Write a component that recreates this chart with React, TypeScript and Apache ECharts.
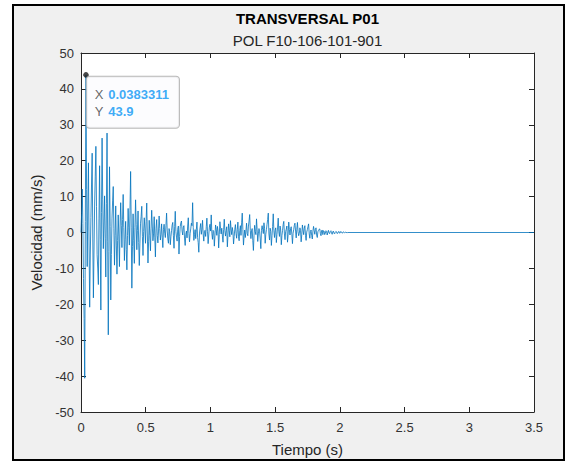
import React, { useEffect, useRef } from "react";
import * as echarts from "echarts";

// Transverse velocity record, uniformly sampled; one value per sample (mm/s)
const SAMPLE_DT = 0.0383311 / 8;
const VELOCITY: number[] = [
  0, 5.2, 12.1, 2.5, -12.8, -24.0, -40.6, 3.1, 43.9, 12.0,
  -9.5, 6.8, 19.4, -3.2, -20.8, -6.0, 4.2, 13.5, 22.1, -1.8,
  -18.2, -4.6, 8.5, 15.7, 24.0, 7.2, -6.2, -9.9, -14.5, 3.8,
  18.6, -2.0, -21.6, 5.5, 26.3, 9.1, -4.5, 2.9, 10.2, -1.6,
  -12.4, 8.0, 27.7, -2.4, -28.5, -5.3, 18.3, 1.7, -18.8, -6.1,
  4.0, 8.8, 12.8, 1.2, -9.1, -0.8, 7.4, -3.5, -11.6, -2.2,
  4.9, -1.0, -9.5, 1.8, 8.3, 2.0, -4.2, 3.6, 10.6, 1.4,
  -7.8, -1.9, 3.1, -4.7, -10.4, -0.9, 6.7, 1.3, -3.5, 6.2,
  17.0, 1.5, -15.5, -3.9, 5.2, -2.3, -8.6, 1.4, 9.1, 2.2,
  -4.8, 0.6, 6.0, -2.8, -9.2, -3.0, 2.6, 4.5, 7.3, -1.1,
  -6.4, 0.3, 4.1, 1.0, -3.0, 3.1, 8.2, -0.7, -8.5, -2.6,
  3.4, -0.9, -5.1, 1.2, 6.2, 1.8, -2.3, -0.4, 4.4, -1.5,
  -6.8, 1.2, 3.6, -0.8, -2.9, 0.4, 4.6, 1.1, -2.1, -0.6,
  2.4, -1.3, -4.2, 0.9, 2.3, -0.2, -1.4, 2.0, 5.4, 0.7,
  -1.8, -3.0, 1.1, 0.2, -3.4, -1.2, 0.5, 2.1, 2.8, -0.9,
  -4.4, 1.6, 5.9, 0.3, -1.3, -2.4, 0.9, 1.8, -6.0, -1.1,
  1.6, 2.7, 3.2, 0.4, -0.7, 1.5, 1.9, -1.8, -3.6, -0.5,
  0.4, -1.5, 1.8, 4.1, -0.3, -2.6, -0.2, 1.0, 2.6, 1.9,
  8.3, 1.4, -2.2, -0.6, 0.8, -1.7, 0.9, 2.9, -1.4, -2.8,
  -5.5, -0.4, 1.3, 2.5, -0.5, 0.8, 3.4, -0.4, -2.4, 0.3,
  0.6, -1.1, 1.6, 4.0, 0.2, -3.1, -0.7, 1.5, 2.3, 0.4,
  4.9, -0.2, -1.9, 0.6, 0.3, -3.8, -0.9, 2.1, 0.9, -0.8,
  1.7, 0.4, -4.3, -0.6, 3.0, 1.1, -0.4, 1.2, -1.0, -2.7,
  0.8, 3.7, 0.5, -1.0, 0.5, 1.6, -4.0, -0.7, 2.4, 0.6,
  -1.2, 3.3, 1.0, -0.6, 1.4, 0.2, -3.2, -1.1, 0.9, 2.2,
  -0.3, -1.6, 0.8, 2.9, -1.2, -2.3, 0.6, 1.9, -0.8, 2.7,
  5.4, 0.9, -3.5, -1.0, 0.7, -1.4, 0.5, 2.6, -0.3, -0.9,
  1.8, 3.2, 5.0, 0.6, -1.7, 0.4, 1.1, -2.2, -5.0, -0.8,
  2.0, 0.3, -0.6, 3.8, 0.9, -2.5, -0.4, 1.1, 0.2, -1.8,
  -4.5, 0.6, 1.9, 0.8, -0.3, 2.7, 1.2, -3.0, -0.5, 0.8,
  2.3, 3.6, 5.4, -0.4, -2.1, 1.2, 0.3, -3.6, -0.9, 1.7,
  5.2, 0.5, -1.4, 0.6, 1.3, -2.8, -0.6, 1.5, 4.0, 0.2,
  -1.1, 1.8, 0.7, -3.4, -0.8, 0.5, 2.2, 3.1, -0.4, -2.0,
  0.3, 0.9, 1.8, -2.7, -0.6, 2.9, 0.8, -0.7, 1.1, 1.6,
  -0.5, -3.1, -0.2, 0.8, 2.0, 2.6, 0.4, -1.5, 0.9, 2.8,
  0.2, -0.9, -0.3, 1.3, 0.6, -2.6, -0.5, 2.1, 0.7, -0.6,
  1.2, 1.9, -0.8, -2.2, 0.1, 0.8, 1.6, 2.4, -0.4, -1.6,
  0.3, 0.7, -0.9, -1.8, 0.4, 1.7, 0.6, -0.5, 0.9, 1.3,
  -0.7, -1.4, 0.2, 0.6, 0.9, 1.0, -0.3, -0.9, 0.5, 0.7,
  -0.6, 0.5, 0.4, -0.6, -0.2, 0.5, 0.3, -0.7, 0.1, 0.6,
  -0.2, -0.3, 0.3, 0.5, -0.1, -0.5, 0.2, 0.4, -0.2, -0.4,
  0.1, 0.3, 0.2, -0.3, -0.2, 0.2, 0.3, -0.2, -0.1, 0.3,
  0.1, -0.2, -0.1, 0.2, 0.1, -0.1, -0.1, 0.1, 0.1, -0.1,
  0.0,
];
// Record continues at rest to the end of the window
const RECORD_END: [number, number] = [3.5, 0];

// Data tip on the maximum
const PEAK: [number, number] = [0.0383311, 43.9];

const X_TICKS = { min: 0, max: 3.5, interval: 0.5 };
const Y_TICKS = { min: -50, max: 50, interval: 10 };

const TITLE = "TRANSVERSAL P01";
const SUBTITLE = "POL F10-106-101-901";
const X_NAME = "Tiempo (s)";
const Y_NAME = "Velocidad (mm/s)";

const FONT = "'Liberation Sans', Arial, Helvetica, sans-serif";
const AXIS_COLOR = "#262626";
const LINE_COLOR = "#0072BD";

export default function App() {
  const ref = useRef<HTMLDivElement>(null);

  useEffect(() => {
    document.body.style.margin = "0";
    if (!ref.current) return;
    const chart = echarts.init(ref.current, null, { renderer: "svg" });

    const lineData: [number, number][] = VELOCITY.map((v, i) => [i * SAMPLE_DT, v]);
    lineData.push(RECORD_END);

    const tickStyle = {
      show: true,
      inside: true,
      length: 5,
      lineStyle: { color: AXIS_COLOR, width: 1 },
    };
    const lineStyle = {
      show: true,
      onZero: false,
      lineStyle: { color: AXIS_COLOR, width: 1 },
    };
    const labelStyle = { color: "#333333", fontSize: 13, fontFamily: FONT };

    chart.setOption({
      animation: false,
      backgroundColor: "#ffffff",
      grid: {
        left: 81,
        right: 37,
        top: 53,
        bottom: 50,
        show: true,
        backgroundColor: "#ffffff",
        borderWidth: 0,
      },
      graphic: [
        {
          type: "rect",
          z: -10,
          silent: true,
          shape: { x: 13, y: 5, width: 551, height: 455 },
          style: { fill: "#f0f0f0", stroke: "#000000", lineWidth: 2 },
        },
        {
          type: "text",
          x: 307.5,
          y: 18,
          style: {
            text: TITLE,
            align: "center",
            verticalAlign: "middle",
            font: `bold 15px ${FONT}`,
            fill: "#000000",
          },
        },
        {
          type: "text",
          x: 307.5,
          y: 40,
          style: {
            text: SUBTITLE,
            align: "center",
            verticalAlign: "middle",
            font: `15px ${FONT}`,
            fill: "#262626",
          },
        },
      ],
      xAxis: [
        {
          type: "value",
          position: "bottom",
          ...X_TICKS,
          axisLine: lineStyle,
          axisTick: tickStyle,
          axisLabel: { ...labelStyle, margin: 9 },
          splitLine: { show: false },
          name: X_NAME,
          nameLocation: "middle",
          nameGap: 30,
          nameTextStyle: { color: "#262626", fontSize: 15, fontFamily: FONT },
        },
        {
          type: "value",
          position: "top",
          ...X_TICKS,
          axisLine: lineStyle,
          axisTick: tickStyle,
          axisLabel: { show: false },
          splitLine: { show: false },
        },
      ],
      yAxis: [
        {
          type: "value",
          position: "left",
          ...Y_TICKS,
          axisLine: lineStyle,
          axisTick: tickStyle,
          axisLabel: { ...labelStyle, margin: 7 },
          splitLine: { show: false },
          name: Y_NAME,
          nameLocation: "middle",
          nameGap: 23,
          nameTextStyle: { color: "#262626", fontSize: 15, fontFamily: FONT },
        },
        {
          type: "value",
          position: "right",
          ...Y_TICKS,
          axisLine: lineStyle,
          axisTick: tickStyle,
          axisLabel: { show: false },
          splitLine: { show: false },
        },
      ],
      series: [
        {
          type: "line",
          data: lineData,
          showSymbol: false,
          symbol: "none",
          lineStyle: { color: LINE_COLOR, width: 0.8 },
          silent: true,
        },
        {
          type: "scatter",
          data: [PEAK],
          symbol: "circle",
          symbolSize: 5,
          itemStyle: { color: "#1a1a1a", borderColor: "#000", borderWidth: 0.5 },
          z: 5,
          label: {
            show: true,
            position: [3.5, 4.5],
            align: "left",
            verticalAlign: "top",
            formatter: (p: any) =>
              `{k|X}{v|${p.value[0]}}\n{k|Y}{v|${p.value[1]}}`,
            backgroundColor: "#fbfbfe",
            borderColor: "#a6a6a6",
            borderWidth: 1,
            borderRadius: 3,
            padding: [9, 10, 8, 8],
            rich: {
              k: {
                color: "#404040",
                fontSize: 13,
                fontFamily: FONT,
                lineHeight: 17,
                width: 13.5,
              },
              v: {
                color: "#0a96f5",
                fontSize: 13,
                fontWeight: "bold",
                fontFamily: FONT,
                lineHeight: 17,
              },
            },
          },
        },
      ],
    });

    return () => chart.dispose();
  }, []);

  return <div ref={ref} style={{ width: 571, height: 462 }} />;
}
